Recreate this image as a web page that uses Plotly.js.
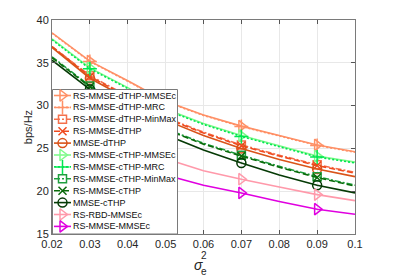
<!DOCTYPE html>
<html>
<head>
<meta charset="utf-8">
<script src="https://cdn.plot.ly/plotly-3.0.1.min.js"></script>
<style>html,body{margin:0;padding:0;background:#fff;}#chart{width:393px;height:276px;}</style>
</head>
<body>
<div id="chart"></div>
<script>
// ---- data ----
const sigma2 = [0.02, 0.03, 0.04, 0.05, 0.06, 0.07, 0.08, 0.09, 0.1];
const markerSigma = [0.03, 0.05, 0.07, 0.09];
const xTicks = [0.02, 0.03, 0.04, 0.05, 0.06, 0.07, 0.08, 0.09, 0.1];
const xTickLabels = ['0.02', '0.03', '0.04', '0.05', '0.06', '0.07', '0.08', '0.09', '0.1'];
const yTicks = [15, 20, 25, 30, 35, 40];

const seriesNames = [
  'RS-MMSE-dTHP-MMSEc', 'RS-MMSE-dTHP-MRC', 'RS-MMSE-dTHP-MinMax', 'RS-MMSE-dTHP', 'MMSE-dTHP',
  'RS-MMSE-cTHP-MMSEc', 'RS-MMSE-cTHP-MRC', 'RS-MMSE-cTHP-MinMax', 'RS-MMSE-cTHP', 'MMSE-cTHP',
  'RS-RBD-MMSEc', 'RS-MMSE-MMSEc'
];
const dTHP_MMSEc  = [38.5, 35.2, 32.9, 30.5, 28.9, 27.6, 26.5, 25.4, 24.6];
const dTHP_MRC    = [38.45, 35.15, 32.85, 30.45, 28.85, 27.55, 26.45, 25.35, 24.55];
const dTHP_MinMax = [36.9, 33.5, 31.1, 28.6, 26.9, 25.4, 24.2, 23.1, 22.2];
const dTHP        = [36.9, 33.4, 31.0, 28.5, 26.8, 25.3, 24.1, 23.0, 22.1];
const MMSE_dTHP   = [36.8, 33.2, 30.8, 28.3, 26.5, 25.0, 23.7, 22.6, 21.7];
const cTHP_MMSEc  = [37.8, 34.4, 32.1, 29.6, 27.9, 26.5, 25.3, 24.1, 23.4];
const cTHP_MRC    = [37.7, 34.3, 32.0, 29.5, 27.8, 26.4, 25.2, 24.0, 23.3];
const cTHP_MinMax = [35.7, 32.3, 29.8, 27.3, 25.6, 24.2, 22.9, 21.7, 20.7];
const cTHP        = [35.6, 32.2, 29.7, 27.2, 25.5, 24.1, 22.8, 21.6, 20.6];
const MMSE_cTHP   = [35.3, 31.9, 29.3, 26.6, 24.8, 23.3, 21.9, 20.7, 19.8];
const RBD_MMSEc   = [30.2, 28.2, 26.0, 23.8, 22.4, 21.4, 20.5, 19.6, 18.9];
const MMSE_MMSEc  = [27.8, 25.8, 23.9, 21.9, 20.7, 19.8, 18.8, 17.9, 17.3];

const seriesValues = [dTHP_MMSEc, dTHP_MRC, dTHP_MinMax, dTHP, MMSE_dTHP,
  cTHP_MMSEc, cTHP_MRC, cTHP_MinMax, cTHP, MMSE_cTHP, RBD_MMSEc, MMSE_MMSEc];

// ---- styles ----
const FONT = '"Liberation Sans", Arial, sans-serif';
const colors = ['#FF9066', '#FF9066', '#F4704C', '#F04A1E', '#D95319',
  '#80FA8C', '#00E650', '#1E9E3E', '#0A6B0A', '#053A05', '#FF99AA', '#E000E0'];
const dashes = ['solid', '2px,2px', '6px,2px,2px,2px', '6px,3px', 'solid',
  'solid', '2px,2px', '6px,2px,2px,2px', '6px,3px', 'solid', 'solid', 'solid'];
const symbols = ['triangle-right-open', 'cross-thin-open', 'square-open', 'x-thin-open', 'circle-open',
  'triangle-right-open', 'cross-thin-open', 'square-open', 'x-thin-open', 'circle-open',
  'triangle-right-open', 'triangle-right-open'];
const msizes = [10, 10, 8, 8, 9, 10, 10, 8, 8, 9, 10, 10];

const markerIdx = sigma2.map((s, i) => markerSigma.some(m => Math.abs(m - s) < 1e-9) ? i : -1).filter(i => i >= 0);

const traces = [];
seriesValues.forEach((vals, k) => {
  traces.push({
    x: sigma2, y: vals, type: 'scatter', mode: 'lines', name: seriesNames[k],
    showlegend: false, hoverinfo: 'skip',
    line: {color: colors[k], width: 1.6, dash: dashes[k]}
  });
  traces.push({
    x: markerIdx.map(i => sigma2[i]), y: markerIdx.map(i => vals[i]), type: 'scatter', mode: 'markers',
    showlegend: false, hoverinfo: 'skip',
    marker: {symbol: symbols[k], size: msizes[k], color: colors[k], line: {color: colors[k], width: 1.5}}
  });
});

// ---- hand-built legend in its own subplot (pixel-like units) ----
const LW = 126, LH = 145, rowH = 11.9, row0 = 6.5;
const plotW = 303, plotH = 214;
traces.push({
  x: [0.5, LW - 0.5, LW - 0.5, 0.5, 0.5], y: [0.5, 0.5, LH, LH, 0.5],
  xaxis: 'x2', yaxis: 'y2', type: 'scatter', mode: 'lines', fill: 'toself',
  fillcolor: '#ffffff', line: {color: '#7a7a7a', width: 1}, showlegend: false, hoverinfo: 'skip'
});
seriesNames.forEach((nm, k) => {
  const yy = row0 + rowH * k;
  traces.push({
    x: [2, 19], y: [yy, yy], xaxis: 'x2', yaxis: 'y2', type: 'scatter', mode: 'lines',
    line: {color: colors[k], width: 1.6, dash: dashes[k]}, showlegend: false, hoverinfo: 'skip'
  });
  traces.push({
    x: [10.5], y: [yy], xaxis: 'x2', yaxis: 'y2', type: 'scatter', mode: 'markers',
    marker: {symbol: symbols[k], size: msizes[k], color: colors[k], line: {color: colors[k], width: 1.5}},
    showlegend: false, hoverinfo: 'skip'
  });
});

const legendAnnotations = seriesNames.map((nm, k) => ({
  text: nm, xref: 'x2', yref: 'y2', x: 20, y: row0 + rowH * k,
  xanchor: 'left', yanchor: 'middle', showarrow: false, borderpad: 0,
  font: {family: FONT, size: 9, color: '#111111'}
}));

const tickFont = {family: FONT, size: 11, color: '#262626'};

const layout = {
  width: 393, height: 276,
  font: {family: FONT, size: 11, color: '#262626'},
  margin: {l: 52, r: 38, t: 20, b: 42},
  paper_bgcolor: '#ffffff', plot_bgcolor: '#ffffff',
  showlegend: false,
  xaxis: {
    range: [0.02, 0.1], tickvals: xTicks, ticktext: xTickLabels,
    ticks: 'inside', ticklen: 4, tickcolor: '#555555', tickwidth: 1,
    showline: true, linecolor: '#7a7a7a', linewidth: 1, mirror: 'ticks',
    showgrid: true, gridcolor: '#e8e8e8', gridwidth: 1, zeroline: false,
    tickfont: tickFont, fixedrange: true
  },
  yaxis: {
    range: [15, 40], tickvals: yTicks,
    ticks: 'inside', ticklen: 4, tickcolor: '#555555', tickwidth: 1,
    showline: true, linecolor: '#7a7a7a', linewidth: 1, mirror: 'ticks',
    showgrid: true, gridcolor: '#e8e8e8', gridwidth: 1, zeroline: false,
    tickfont: tickFont, fixedrange: true,
    title: {text: 'bps/Hz', font: {family: FONT, size: 11, color: '#262626'}, standoff: 1}
  },
  xaxis2: {domain: [0, LW / plotW], range: [0, LW], anchor: 'y2', visible: false, fixedrange: true},
  yaxis2: {domain: [0, LH / plotH], range: [LH, 0], anchor: 'x2', visible: false, fixedrange: true},
  annotations: legendAnnotations.concat([
    {text: '<i>σ</i>', xref: 'paper', yref: 'paper', x: 0.482, y: -0.145, xanchor: 'center', yanchor: 'middle',
     showarrow: false, font: {family: FONT, size: 14, color: '#262626'}},
    {text: '2', xref: 'paper', yref: 'paper', x: 0.503, y: -0.100, xanchor: 'center', yanchor: 'middle',
     showarrow: false, font: {family: FONT, size: 10, color: '#262626'}},
    {text: 'e', xref: 'paper', yref: 'paper', x: 0.503, y: -0.175, xanchor: 'center', yanchor: 'middle',
     showarrow: false, font: {family: FONT, size: 10, color: '#262626'}}
  ])
};

Plotly.newPlot('chart', traces, layout, {staticPlot: true, displayModeBar: false});
</script>
</body>
</html>
